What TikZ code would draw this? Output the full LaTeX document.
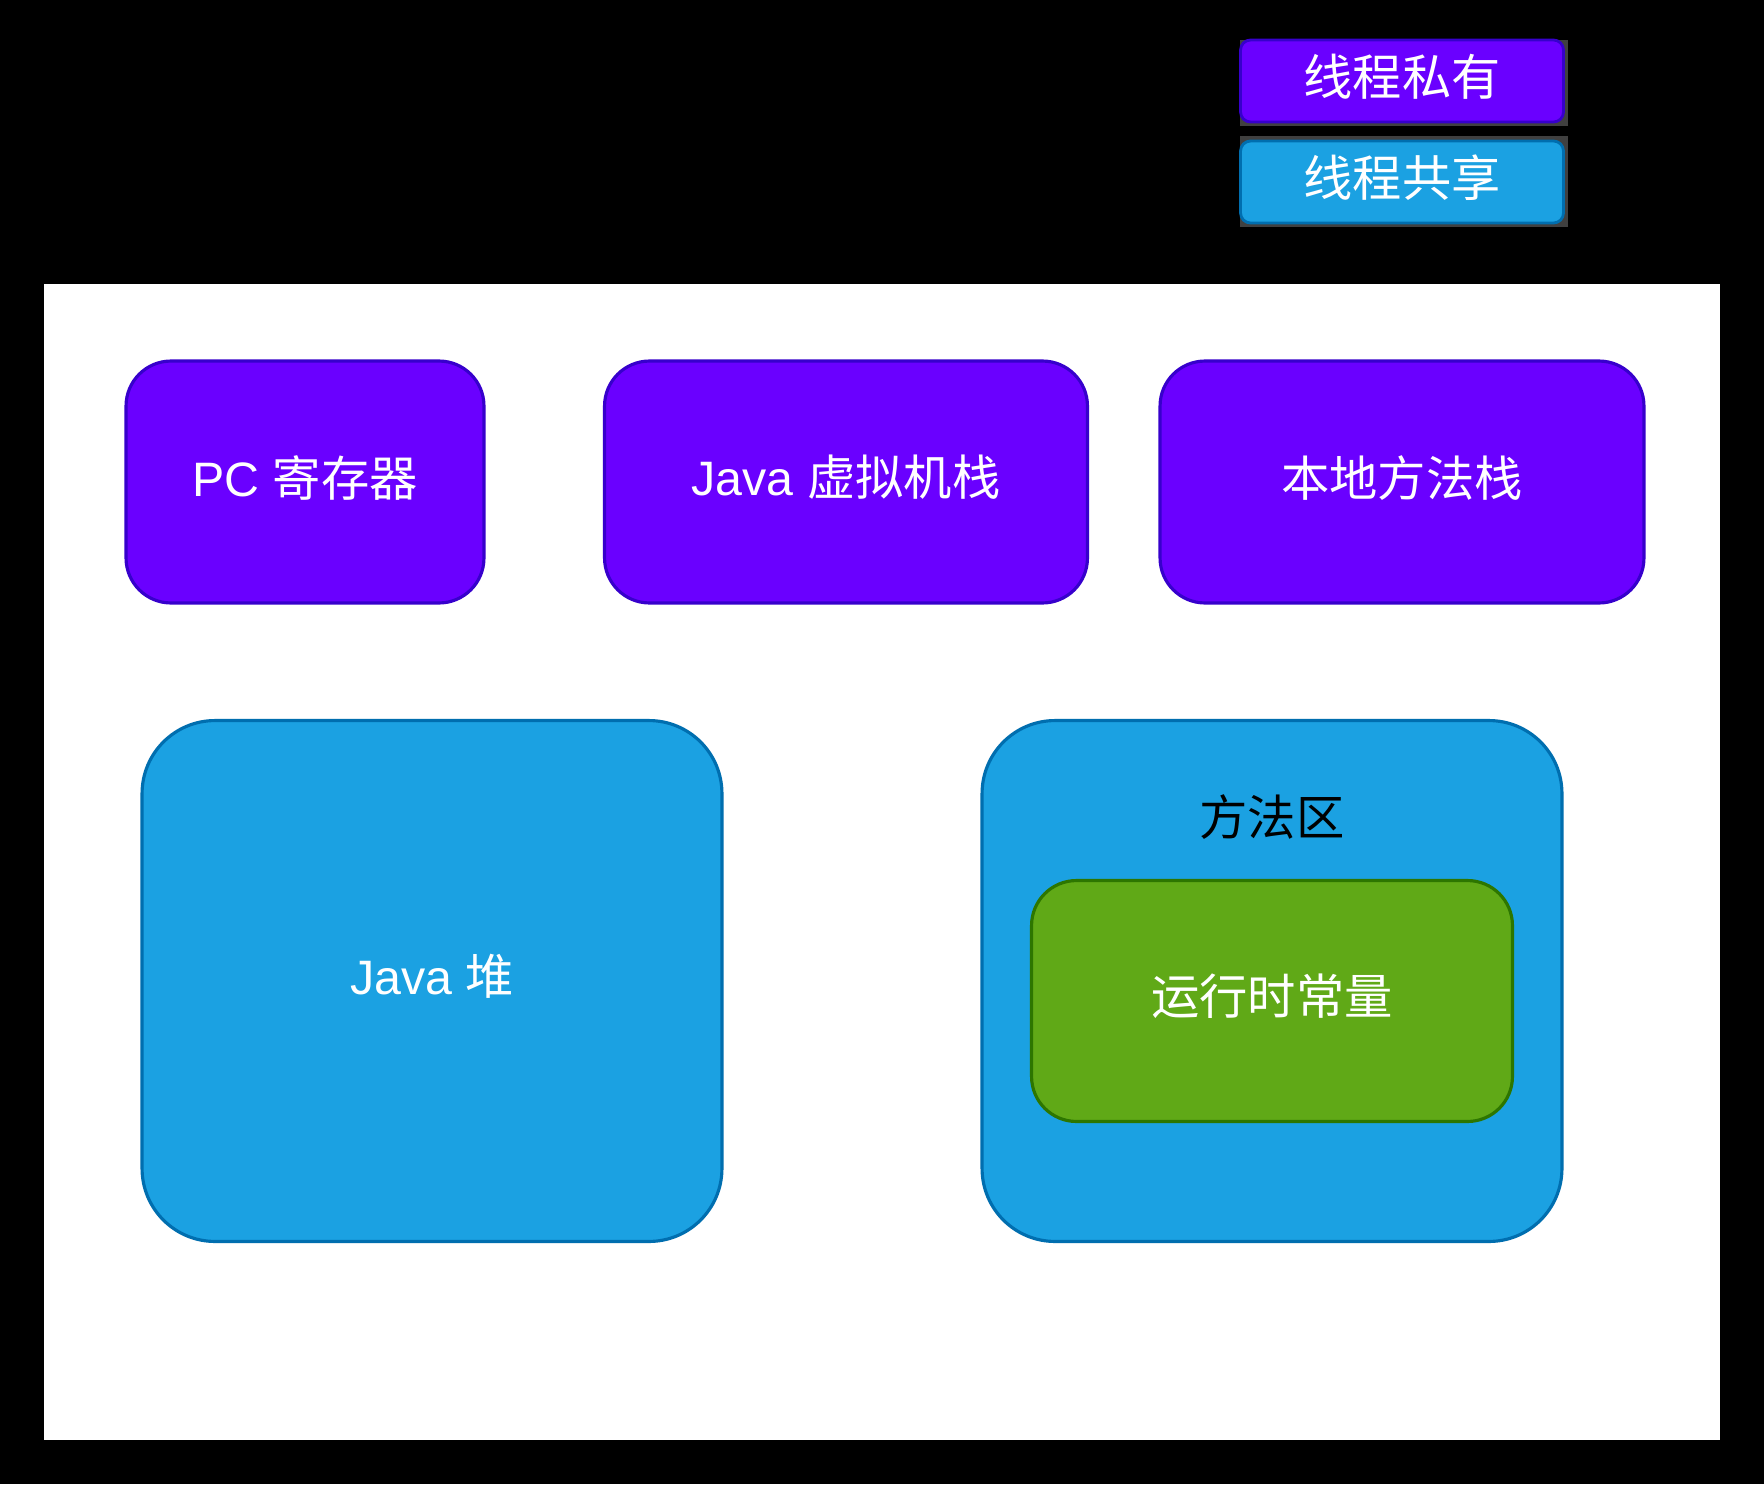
\documentclass[tikz,border=0pt]{standalone}
\usepackage{fontspec}
\setmainfont{Liberation Sans}
\newfontfamily\cjk{Noto Sans CJK SC}
\usepackage{tikz}
\usetikzlibrary{shapes}
\definecolor{privfill}{HTML}{6A00FF}
\definecolor{privline}{HTML}{3700CC}
\definecolor{sharefill}{HTML}{1BA1E2}
\definecolor{shareline}{HTML}{006EAF}
\definecolor{constfill}{HTML}{60A917}
\definecolor{constline}{HTML}{2D7600}
\definecolor{keyshade}{HTML}{404040}
\tikzset{
  area/.style={line width=1.8pt, text=white, inner sep=0pt, font=\fontsize{27.5}{32}\selectfont},
  private/.style={area, fill=privfill, draw=privline, rounded corners=0.9cm},
  shared/.style={area, fill=sharefill, draw=shareline, rounded corners=1.46cm},
  constpool/.style={area, fill=constfill, draw=constline, rounded corners=0.9cm},
  keybox/.style={line width=1.6pt, text=white, inner sep=0pt, rounded corners=0.2cm,
    minimum width=6.46cm, minimum height=1.64cm, font=\fontsize{28}{32}\selectfont}
}
\newcommand{\lifted}[1] {\raisebox{2.5pt}[\height][\depth]{#1}}
\newcommand{\privatenode}[4] {\node at (#1) (#2) [private, minimum width=#3, minimum height=4.84cm] {\lifted{#4}};}
\newcommand{\sharednode}[3] {\node at (#1) (#2) [shared, minimum width=11.6cm, minimum height=10.42cm] {\lifted{#3}};}

\begin{document}
\begin{tikzpicture}[x=0.02cm, y=-0.02cm]
\useasboundingbox (0,0) rectangle (1764,1484);
\fill [black] (0,0) rectangle (1764,1484);
\fill [white] (44,284) rectangle (1720,1440);

% legend
\fill [keyshade] (1240,40) rectangle (1568,126);
\fill [keyshade] (1240,136) rectangle (1568,227);
\node at (1402,81) (private-key) [keybox, fill=privfill, draw=privline] {\lifted{\cjk 线程私有}};
\node at (1402,182) (shared-key) [keybox, fill=sharefill, draw=shareline] {\lifted{\cjk 线程共享}};

% thread private
\privatenode {305,482}{pc}{7.16cm}{PC {\cjk 寄存器}};
\privatenode {846,482}{vmstack}{9.66cm}{Java {\cjk 虚拟机栈}};
\privatenode {1402,482}{nativestack}{9.68cm}{\cjk 本地方法栈};

% thread shared
\sharednode {432,981}{heap}{Java {\cjk 堆}};
\sharednode {1272,981}{methodarea}{};
\node at (1272,817) (methodarea-label) [font=\fontsize{27.5}{32}\selectfont\cjk] {方法区};
\node at (1272,1001) (constants) [constpool, minimum width=9.62cm, minimum height=4.82cm] {\lifted{\cjk 运行时常量}};

\end{tikzpicture}
\end{document}
